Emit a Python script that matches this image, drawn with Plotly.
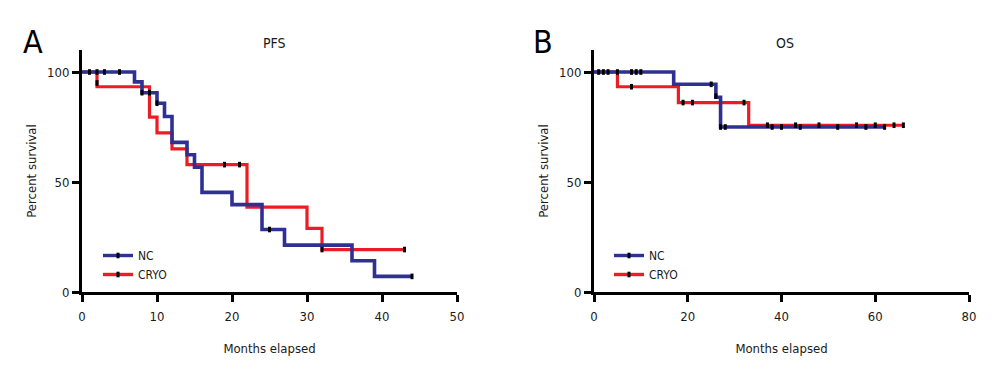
import plotly.graph_objects as go

# ---------------- data ----------------
# Panel A: PFS (Kaplan-Meier steps)
pfs_nc_t = [0, 7, 8, 10, 11, 12, 14, 15, 16, 20, 24, 27, 36, 39, 44]
pfs_nc_s = [100, 95.5, 90.6, 85.8, 79.8, 68.0, 62.4, 56.7, 45.3, 39.7, 28.4, 21.3, 14.2, 7.1, 7.1]
pfs_cryo_t = [0, 2, 9, 10, 12, 14, 22, 30, 32, 43]
pfs_cryo_s = [100, 93.3, 79.5, 72.3, 65.1, 57.9, 38.6, 28.9, 19.3, 19.3]
pfs_nc_cens_t = [1, 2, 3, 5, 8, 9, 10, 25, 44]
pfs_nc_cens_s = [100, 100, 100, 100, 90.6, 90.6, 85.8, 28.4, 7.1]
pfs_cryo_cens_t = [2, 19, 21, 32, 43]
pfs_cryo_cens_s = [95, 57.9, 57.9, 19.3, 19.3]

# Panel B: OS
os_nc_t = [0, 17, 26, 27, 62]
os_nc_s = [100, 94.4, 88.5, 75.0, 75.0]
os_cryo_t = [0, 5, 18, 33, 66]
os_cryo_s = [100, 93.3, 86.1, 75.8, 75.8]
os_nc_cens_t = [1, 2, 3, 8, 9, 10, 25, 26, 27, 28, 38, 40, 44, 52, 58, 62]
os_nc_cens_s = [100, 100, 100, 100, 100, 100, 94.4, 89, 75.0, 75.0, 75.0, 75.0, 75.0, 75.0, 75.0, 75.0]
os_cryo_cens_t = [5, 8, 19, 21, 32, 37, 43, 48, 56, 60, 64, 66]
os_cryo_cens_s = [100, 93.3, 86.1, 86.1, 86.1, 75.8, 75.8, 75.8, 75.8, 75.8, 75.8, 75.8]

group_names = ["NC", "CRYO"]
panel_titles = ["PFS", "OS"]
panel_letters = ["A", "B"]
x_ticks_a = [0, 10, 20, 30, 40, 50]
x_ticks_b = [0, 20, 40, 60, 80]
y_ticks = [0, 50, 100]

# ---------------- style ----------------
BLUE = "#2E3192"
RED = "#ED1C24"
FONT = "Liberation Sans Narrow, DejaVu Sans Condensed, Arial Narrow, sans-serif"
TXT = "#1a1a1a"

fig = go.Figure()


def add_panel(xa, ya, legend, nc_t, nc_s, cr_t, cr_s, nc_ct, nc_cs, cr_ct, cr_cs):
    fig.add_trace(go.Scatter(x=cr_t, y=cr_s, mode="lines", line=dict(color=RED, width=3.2, shape="hv"),
                             xaxis=xa, yaxis=ya, showlegend=False, hoverinfo="skip"))
    fig.add_trace(go.Scatter(x=nc_t, y=nc_s, mode="lines", line=dict(color=BLUE, width=3.6, shape="hv"),
                             xaxis=xa, yaxis=ya, showlegend=False, hoverinfo="skip"))
    cens_marker = dict(symbol="line-ns", size=4, color="black", line=dict(color="black", width=3))
    fig.add_trace(go.Scatter(x=nc_ct, y=nc_cs, mode="markers", marker=cens_marker,
                             xaxis=xa, yaxis=ya, showlegend=False, hoverinfo="skip"))
    fig.add_trace(go.Scatter(x=cr_ct, y=cr_cs, mode="markers", marker=cens_marker,
                             xaxis=xa, yaxis=ya, showlegend=False, hoverinfo="skip"))
    for name, col in zip(group_names, [BLUE, RED]):
        fig.add_trace(go.Scatter(x=[None], y=[None], mode="lines+markers", name=name,
                                 line=dict(color=col, width=3.4),
                                 marker=dict(symbol="line-ns", size=4, color="black",
                                             line=dict(color="black", width=3)),
                                 xaxis=xa, yaxis=ya, legend=legend, showlegend=True))


add_panel("x", "y", "legend", pfs_nc_t, pfs_nc_s, pfs_cryo_t, pfs_cryo_s,
          pfs_nc_cens_t, pfs_nc_cens_s, pfs_cryo_cens_t, pfs_cryo_cens_s)
add_panel("x2", "y2", "legend2", os_nc_t, os_nc_s, os_cryo_t, os_cryo_s,
          os_nc_cens_t, os_nc_cens_s, os_cryo_cens_t, os_cryo_cens_s)

W, H = 1000, 377
OFF = 8  # page body margin


def px_x(p):
    return (p - OFF) / W


def px_y(p):
    return 1 - (p - OFF) / H


y_dom = [px_y(292), px_y(50)]

axis_common = dict(showline=True, linewidth=3, linecolor="black", ticks="outside", ticklen=7,
                   tickwidth=3, tickcolor="black", showgrid=False, zeroline=False, automargin=False,
                   tickfont=dict(family=FONT, size=13, color=TXT),
                   title_font=dict(family=FONT, size=13, color=TXT))

fig.update_layout(
    width=W, height=H,
    margin=dict(l=0, r=0, t=0, b=0),
    paper_bgcolor="white", plot_bgcolor="white",
    font=dict(family=FONT, color=TXT),
    xaxis=dict(domain=[px_x(82), px_x(457)], range=[0, 50], tickvals=x_ticks_a, ticklabelstandoff=3,
               title=dict(text="Months elapsed", standoff=22), anchor="y", **axis_common),
    yaxis=dict(domain=y_dom, range=[0, 110], tickvals=y_ticks,
               title=dict(text="Percent survival", standoff=8), anchor="x", **axis_common),
    xaxis2=dict(domain=[px_x(594), px_x(969)], range=[0, 80], tickvals=x_ticks_b, ticklabelstandoff=3,
                title=dict(text="Months elapsed", standoff=22), anchor="y2", **axis_common),
    yaxis2=dict(domain=y_dom, range=[0, 110], tickvals=y_ticks,
                title=dict(text="Percent survival", standoff=8), anchor="x2", **axis_common),
    legend=dict(x=px_x(98), y=px_y(241), xanchor="left", yanchor="top", bgcolor="rgba(0,0,0,0)",
                font=dict(family=FONT, size=12, color=TXT), tracegroupgap=0, itemwidth=30),
    legend2=dict(x=px_x(609), y=px_y(241), xanchor="left", yanchor="top", bgcolor="rgba(0,0,0,0)",
                 font=dict(family=FONT, size=12, color=TXT), tracegroupgap=0, itemwidth=30),
)

annots = []
for title, letter, cx, lx in zip(panel_titles, panel_letters, [274, 785], [33, 543]):
    annots.append(dict(text=title, x=px_x(cx), y=px_y(43), xref="paper", yref="paper",
                       showarrow=False, xanchor="center", yanchor="middle",
                       font=dict(family=FONT, size=14, color=TXT)))
    annots.append(dict(text=letter, x=px_x(lx), y=px_y(42), xref="paper", yref="paper",
                       showarrow=False, xanchor="center", yanchor="middle",
                       font=dict(family=FONT, size=32, color="black")))
fig.update_layout(annotations=annots)

fig.write_html("out.html")
